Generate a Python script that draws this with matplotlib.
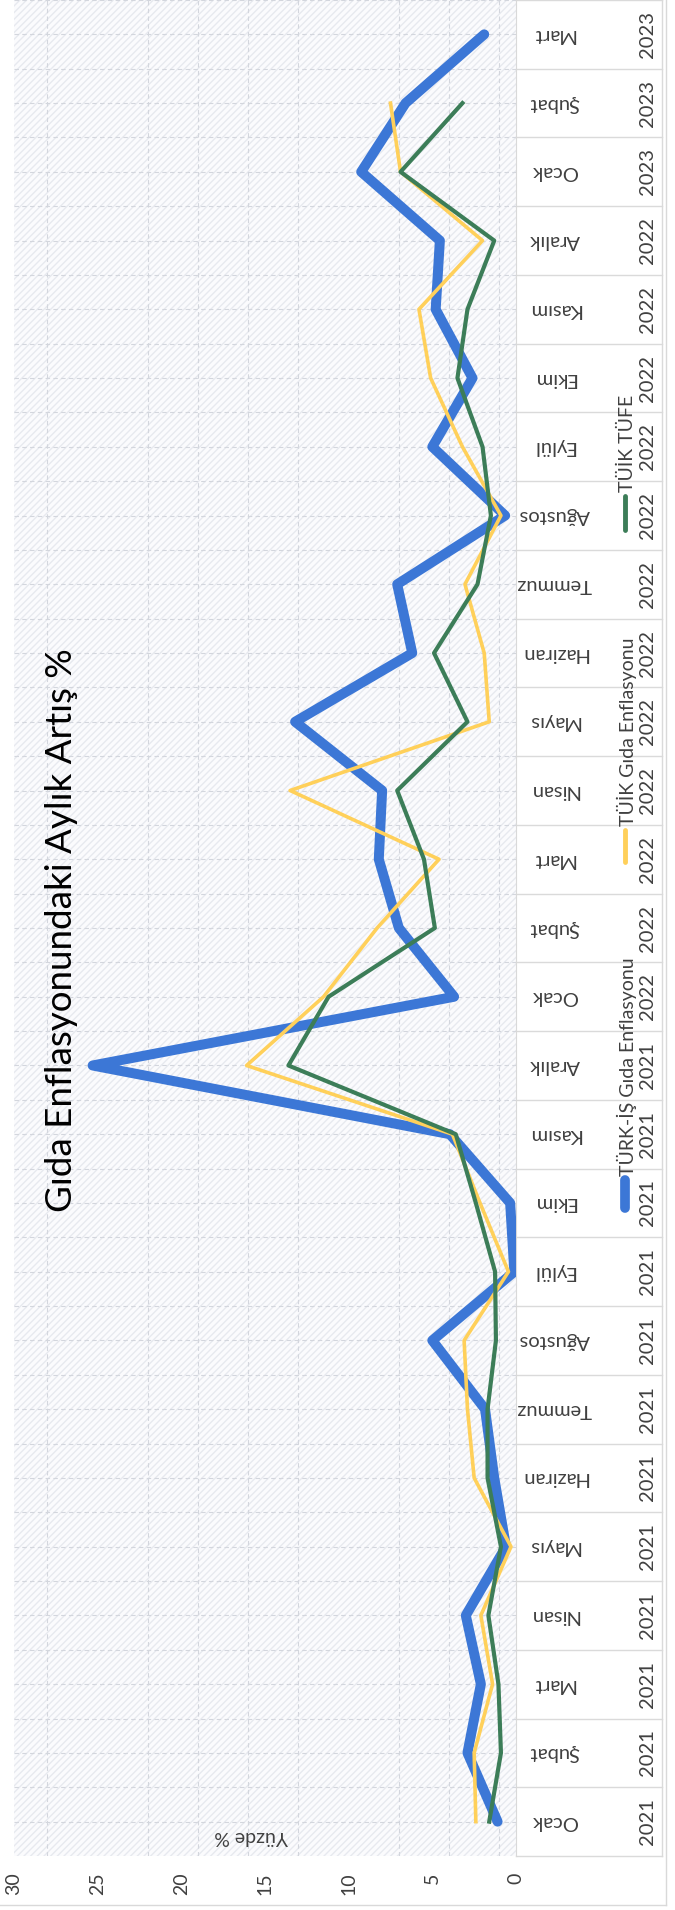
import numpy as np
import matplotlib
matplotlib.use('Agg')
import matplotlib.pyplot as plt
import matplotlib.transforms as mtransforms
from matplotlib.patches import Rectangle
from matplotlib.lines import Line2D

plt.rcParams['font.family'] = ['Lato', 'DejaVu Sans']

# categories, Ocak 2021 -> Mart 2023
months = ['Ocak', 'Şubat', 'Mart', 'Nisan', 'Mayıs', 'Haziran', 'Temmuz', 'Ağustos',
          'Eylül', 'Ekim', 'Kasım', 'Aralık'] * 2 + ['Ocak', 'Şubat', 'Mart']
years = ['2021'] * 12 + ['2022'] * 12 + ['2023'] * 3

# monthly change, %
turkis_gida = [1.1, 2.9, 2.1, 3.0, 0.6, 1.3, 1.85, 5.0, 0.1, 0.35, 3.95, 25.3,
               3.7, 7.0, 8.2, 8.0, 13.2, 6.2, 7.1, 0.65, 5.0, 2.6, 4.8, 4.55,
               9.25, 6.6, 1.9]
tuik_gida = [2.4, 2.5, 1.4, 2.1, 0.3, 2.5, 2.9, 3.1, 0.45, 2.15, 3.8, 16.1,
             11.5, 8.3, 4.6, 13.5, 1.6, 1.9, 3.05, 0.9, 3.2, 5.1, 5.8, 2.0,
             6.9, 7.5]
tuik_tufe = [1.6, 0.9, 1.05, 1.65, 0.9, 1.7, 1.7, 1.2, 1.25, 2.4, 3.6, 13.6,
             11.2, 4.85, 5.5, 7.1, 2.9, 4.9, 2.3, 1.5, 2.0, 3.5, 2.9, 1.3,
             6.9, 3.2]

value_ticks = [0, 5, 10, 15, 20, 25, 30]
series_names = ['TÜRK-İŞ Gıda Enflasyonu', 'TÜİK Gıda Enflasyonu', 'TÜİK TÜFE']

W, H = 675, 1910
def fx(px):
    return px / W
def fy(py):
    return 1 - py / H

blue = '#3C77D6'
yellow = '#FFD05A'
green = '#3C7D58'
txt = '#404040'

fig = plt.figure(figsize=(6.75, 19.10), dpi=100)
ax = fig.add_axes([fx(14), 54 / H, fx(516) - fx(14), 1856 / H])
ax.set_facecolor('#fbfbfd')

# background pattern of the plot area
ax.add_patch(Rectangle((0, 0), 1, 1, transform=ax.transAxes, facecolor='none',
                       edgecolor='#e7e9ef', hatch='/////', lw=0, zorder=0))

idx = np.arange(len(months))
ax.plot(turkis_gida, idx[:len(turkis_gida)], color=blue, lw=7.2,
        solid_capstyle='round', solid_joinstyle='round', zorder=3)
ax.plot(tuik_gida, idx[:len(tuik_gida)], color=yellow, lw=2.6, zorder=4)
ax.plot(tuik_tufe, idx[:len(tuik_tufe)], color=green, lw=3, zorder=5)

ax.set_xlim(30, 0)
ax.set_ylim(-0.5, len(months) - 0.5)
ax.set_xticks(value_ticks)
ax.set_xticklabels([str(v) for v in value_ticks])
ax.tick_params(axis='x', length=0, pad=12, labelsize=14, labelrotation=90,
               labelcolor=txt)
ax.set_yticks([])
ax.set_xticks(np.arange(1, 30, 3), minor=True)
ax.set_yticks(np.arange(0, len(months) - 0.4, 0.5), minor=True)
ax.tick_params(which='minor', length=0)
ax.grid(which='minor', color='#d3d6dd', linestyle=(0, (4, 3)), lw=0.8)
for s in ['left', 'top', 'bottom']:
    ax.spines[s].set_visible(False)
ax.spines['right'].set_color('#d9d9d9')

# category table on the right
blend = mtransforms.blended_transform_factory(fig.transFigure, ax.transData)
for i in idx:
    ax.text(fx(554), i, months[i], rotation=180, ha='center', va='center',
            fontsize=14.5, color=txt, transform=blend)
    ax.text(fx(648), i, years[i], rotation=90, ha='center', va='center',
            fontsize=14.5, color=txt, transform=blend)
for b in np.arange(-0.5, len(months), 1):
    ax.add_line(Line2D([fx(516), fx(662)], [b, b], transform=blend,
                       color='#dadada', lw=1, clip_on=False))
ax.add_line(Line2D([fx(662), fx(662)], [-0.5, len(months) - 0.5], transform=blend,
                   color='#dadada', lw=1, clip_on=False))
ax.set_xlim(30, 0)
ax.set_ylim(-0.5, len(months) - 0.5)

# legend, rotated
leg = [(series_names[0], blue, 7, 1208, 1180),
       (series_names[1], yellow, 3.5, 862, 830),
       (series_names[2], green, 3.5, 530, 496)]
for name, col, lw, y0, y1 in leg:
    fig.add_artist(Line2D([fx(625), fx(625)], [fy(y0), fy(y1)], color=col, lw=lw,
                          solid_capstyle='round'))
    fig.text(fx(627), fy(y1 - 4), name, rotation=90, ha='center', va='bottom',
             fontsize=14, color=txt)

fig.text(fx(62), fy(930), 'Gıda Enflasyonundaki Aylık Artış %', rotation=90,
         ha='center', va='center', fontsize=26.5, color='black')
fig.text(fx(251), fy(1836), 'Yüzde %', rotation=180, ha='center', va='center',
         fontsize=14, color=txt)

# outer chart border
fig.add_artist(Line2D([fx(666), fx(666)], [fy(0), fy(1905)], color='#d9d9d9', lw=1))
fig.add_artist(Line2D([fx(0), fx(666)], [fy(1905), fy(1905)], color='#d9d9d9', lw=1))

fig.savefig('out.png', dpi=100)
